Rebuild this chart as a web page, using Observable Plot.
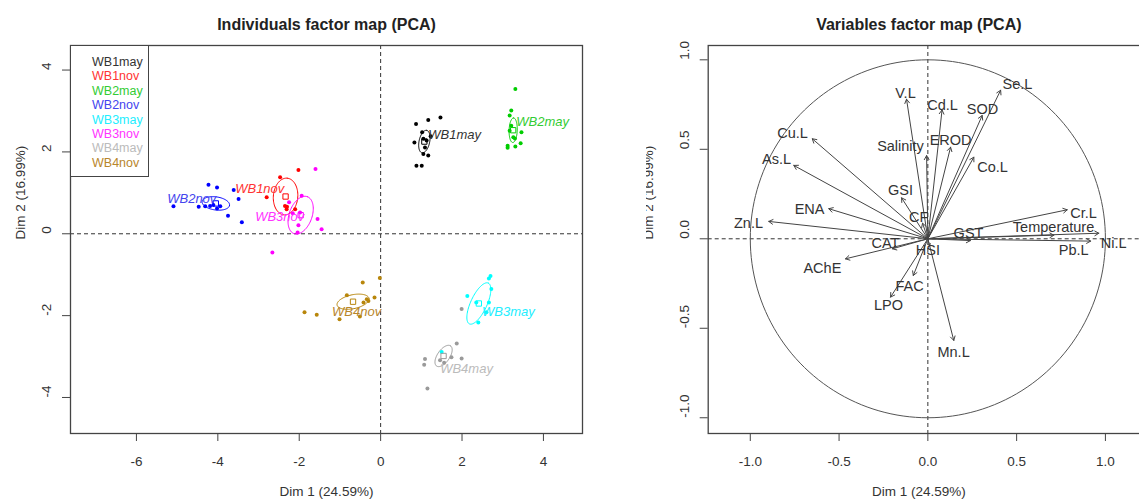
<!DOCTYPE html>
<html><head><meta charset="utf-8">
<script src="https://cdn.jsdelivr.net/npm/d3@7"></script>
<script src="https://cdn.jsdelivr.net/npm/@observablehq/plot@0.6"></script>
<style>
body{margin:0;background:#fff;}
#wrap{position:relative;width:1139px;height:500px;overflow:hidden;background:#fff;font-family:"Liberation Sans",Arial,sans-serif;}
#left{position:absolute;left:0;top:0;width:600px;height:500px;}
#right{position:absolute;left:646px;top:0;width:514px;height:500px;}
#wrap svg{max-width:none !important;}
#legend{position:absolute;left:70px;top:45px;width:79px;height:132px;box-sizing:border-box;border:1.3px solid #444;background:#fff;padding:9px 0 0 21px;font-size:12.5px;line-height:14.4px;}
</style></head><body>
<div id="wrap"><div id="left"></div><div id="right"></div><div id="legend"></div></div>
<script>
// ---------- Individuals (left panel) ----------
const groups = ["WB1may","WB1nov","WB2may","WB2nov","WB3may","WB3nov","WB4may","WB4nov"];
const groupColors = ["#000000","#FF0000","#00CD00","#0000FF","#00FFFF","#FF00FF","#9A9A9A","#B8860B"];
const labelColors = ["#333333","#FF3333","#33CC33","#4444EE","#22EEFF","#FF33FF","#BBBBBB","#B8862B"];

const WB1may_x = [0.87,1.17,1.47,1.02,0.83,1.23,1.05,1.17,0.88,1.01,1.09,1.05,1.13];
const WB1may_y = [2.68,2.78,2.84,2.48,2.23,2.38,1.95,1.91,1.66,1.66,2.11,2.32,2.28];
const WB1nov_x = [-2.02,-2.47,-2.80,-2.35,-2.31,-2.10,-2.30];
const WB1nov_y = [1.56,1.38,0.89,0.68,0.60,0.60,0.66];
const WB2may_x = [3.31,3.21,3.17,3.21,3.17,3.46,3.26,3.30,3.12,3.12,3.31,3.44];
const WB2may_y = [3.54,3.01,2.89,2.64,2.52,2.48,2.36,2.33,2.15,2.10,2.13,2.21];
const WB2nov_x = [-5.09,-4.23,-4.02,-3.61,-4.47,-3.49,-3.75,-3.41,-4.19,-4.11,-3.94,-4.02,-4.31];
const WB2nov_y = [0.67,1.20,1.13,1.07,0.66,0.85,0.44,0.28,0.68,0.70,0.67,0.62,0.67];
const WB3may_x = [2.70,2.66,2.72,2.13,2.66,2.60,2.40,1.50,2.35];
const WB3may_y = [-1.03,-1.09,-1.35,-1.52,-1.68,-1.92,-2.17,-2.89,-1.68];
const WB3nov_x = [-1.60,-1.94,-2.25,-2.16,-1.98,-1.55,-1.45,-2.02,-2.04,-2.66];
const WB3nov_y = [1.58,0.93,0.77,0.50,0.52,0.36,0.11,0.21,0.03,-0.46];
const WB4may_x = [1.99,1.87,1.99,1.74,1.09,1.07,1.46,1.56,1.15];
const WB4may_y = [-1.84,-2.68,-3.05,-3.02,-3.06,-3.20,-3.09,-3.15,-3.78];
const WB4nov_x = [-0.02,-0.44,-0.15,-0.83,-0.30,-1.87,-1.57,-1.01,-0.51,-0.42,-0.34];
const WB4nov_y = [-1.08,-1.19,-1.56,-1.50,-1.64,-1.92,-1.98,-2.09,-2.02,-1.68,-1.60];

// confidence ellipse semi-axes and orientation (degrees)
const ellA = [0.28,0.45,0.30,0.34,0.55,0.48,0.30,0.40];
const ellB = [0.13,0.30,0.10,0.16,0.20,0.28,0.15,0.17];
const ellAngle = [78,85,88,-8,65,70,55,12];
// group label positions
const labelX = [1.82,-2.97,3.98,-4.64,3.14,-2.48,2.11,-0.59];
const labelY = [2.42,1.10,2.74,0.86,-1.91,0.42,-3.30,-1.91];

const xTicksL = [-6,-4,-2,0,2,4];
const yTicksL = [-4,-2,0,2,4];

// ---------- Variables (right panel) ----------
const varNames = ["V.L","Cd.L","SOD","Se.L","EROD","Salinity","Co.L","Cu.L","As.L","GSI","ENA","Zn.L","CF","CAT","AChE","HSI","FAC","LPO","Mn.L","GST","Cr.L","Temperature","Ni.L","Pb.L"];
const varX = [-0.12,0.08,0.306,0.41,0.128,-0.007,0.259,-0.651,-0.755,-0.148,-0.558,-0.896,-0.03,-0.2,-0.464,0.01,-0.082,-0.21,0.146,0.24,0.785,0.71,0.963,0.917];
const varY = [0.78,0.72,0.689,0.83,0.512,0.465,0.456,0.559,0.41,0.229,0.168,0.097,0.087,-0.056,-0.112,-0.04,-0.205,-0.326,-0.568,-0.01,0.162,0.02,0.031,-0.013];
const varLabelX = [-0.126,0.083,0.308,0.505,0.128,-0.154,0.364,-0.762,-0.852,-0.154,-0.666,-1.01,-0.052,-0.239,-0.594,0.0,-0.103,-0.222,0.145,0.229,0.877,0.708,1.046,0.821];
const varLabelY = [0.812,0.745,0.722,0.862,0.549,0.515,0.398,0.587,0.443,0.270,0.164,0.086,0.119,-0.026,-0.166,-0.065,-0.266,-0.373,-0.635,0.030,0.141,0.063,-0.026,-0.065];
const xTicksR = [-1,-0.5,0,0.5,1];
const yTicksR = [-1,-0.5,0,0.5,1];

const FONT = '"Liberation Sans", Arial, sans-serif';
const pointsByGroup = {
  WB1may:[WB1may_x,WB1may_y], WB1nov:[WB1nov_x,WB1nov_y], WB2may:[WB2may_x,WB2may_y], WB2nov:[WB2nov_x,WB2nov_y],
  WB3may:[WB3may_x,WB3may_y], WB3nov:[WB3nov_x,WB3nov_y], WB4may:[WB4may_x,WB4may_y], WB4nov:[WB4nov_x,WB4nov_y]
};
const points = [];
groups.forEach(g => { const [xs, ys] = pointsByGroup[g]; xs.forEach((x, i) => points.push({g, x, y: ys[i]})); });
const means = groups.map((g, i) => {
  const [xs, ys] = pointsByGroup[g];
  return {g, x: d3.mean(xs), y: d3.mean(ys), lx: labelX[i], ly: labelY[i]};
});
const ellPts = [];
means.forEach((m, i) => {
  const th = ellAngle[i] * Math.PI / 180, a = ellA[i], b = ellB[i];
  for (let k = 0; k <= 90; k++) {
    const t = 2 * Math.PI * k / 90;
    ellPts.push({g: m.g, x: m.x + a*Math.cos(t)*Math.cos(th) - b*Math.sin(t)*Math.sin(th),
                        y: m.y + a*Math.cos(t)*Math.sin(th) + b*Math.sin(t)*Math.cos(th)});
  }
});

const left = Plot.plot({
  width: 600, height: 500,
  marginLeft: 70, marginTop: 45, marginRight: 18, marginBottom: 67,
  x: {domain: [-7.62, 4.96]},
  y: {domain: [-4.88, 4.60]},
  color: {domain: groups, range: groupColors},
  style: {fontFamily: FONT, background: "white", color: "#333", maxWidth: "none"},
  marks: [
    Plot.ruleX([0], {stroke: "#333", strokeDasharray: "4,3"}),
    Plot.ruleY([0], {stroke: "#333", strokeDasharray: "4,3"}),
    Plot.line(ellPts, {x: "x", y: "y", z: "g", stroke: "g", strokeWidth: 1}),
    Plot.dot(points, {x: "x", y: "y", fill: "g", r: 2, stroke: null}),
    Plot.dot(means, {x: "x", y: "y", stroke: "g", symbol: "square", r: 3, fill: "none", strokeWidth: 1}),
    Plot.text(means, {x: "lx", y: "ly", text: "g", fill: d => labelColors[groups.indexOf(d.g)], fontStyle: "italic", fontSize: 13}),
    Plot.frame({stroke: "#444", strokeWidth: 1.3}),
    Plot.axisX(xTicksL, {tickSize: 8, fill: "none", stroke: "#444", label: null}),
    Plot.axisY(yTicksL, {tickSize: 8, fill: "none", stroke: "#444", label: null}),
    Plot.text(xTicksL, {x: d => d, text: d => String(d), frameAnchor: "bottom", dy: 32, fontSize: 13.5, fill: "#333"}),
    Plot.text(yTicksL, {y: d => d, text: d => String(d), frameAnchor: "left", dx: -24, rotate: -90, fontSize: 13.5, fill: "#333"}),
    Plot.text(["Individuals factor map (PCA)"], {text: d => d, frameAnchor: "top", dy: -27, fontSize: 16, fontWeight: "bold", fill: "#222"}),
    Plot.text(["Dim 1 (24.59%)"], {text: d => d, frameAnchor: "bottom", dy: 62, fontSize: 13.5, fill: "#333"}),
    Plot.text(["Dim 2 (16.99%)"], {text: d => d, frameAnchor: "left", dx: -50, rotate: -90, fontSize: 13.5, fill: "#333"})
  ]
});
document.getElementById("left").appendChild(left);

const legend = document.getElementById("legend");
groups.forEach((g, i) => {
  const d = document.createElement("div");
  d.textContent = g; d.style.color = labelColors[i];
  legend.appendChild(d);
});

const vars = varNames.map((n, i) => ({n, x: varX[i], y: varY[i], lx: varLabelX[i], ly: varLabelY[i]}));
const circle = d3.range(0, 181).map(k => ({x: Math.cos(2*Math.PI*k/180), y: Math.sin(2*Math.PI*k/180)}));
const fmt1 = d => d.toFixed(1);

const right = Plot.plot({
  width: 514, height: 500,
  marginLeft: 61.7, marginTop: 45, marginRight: 13, marginBottom: 67,
  x: {domain: [-1.237, 1.237]},
  y: {domain: [-1.088, 1.08]},
  style: {fontFamily: FONT, background: "white", color: "#333", maxWidth: "none"},
  marks: [
    Plot.ruleX([0], {stroke: "#333", strokeDasharray: "4,3"}),
    Plot.ruleY([0], {stroke: "#333", strokeDasharray: "4,3"}),
    Plot.line(circle, {x: "x", y: "y", stroke: "#555", strokeWidth: 1}),
    Plot.arrow(vars, {x1: d => 0, y1: d => 0, x2: "x", y2: "y", stroke: "#444", strokeWidth: 1, headLength: 7}),
    Plot.text(vars, {x: "lx", y: "ly", text: "n", fontSize: 14.5, fill: "#333"}),
    Plot.frame({stroke: "#444", strokeWidth: 1.3}),
    Plot.axisX(xTicksR, {tickSize: 8, fill: "none", stroke: "#444", label: null}),
    Plot.axisY(yTicksR, {tickSize: 8, fill: "none", stroke: "#444", label: null}),
    Plot.text(xTicksR, {x: d => d, text: fmt1, frameAnchor: "bottom", dy: 32, fontSize: 13.5, fill: "#333"}),
    Plot.text(yTicksR, {y: d => d, text: fmt1, frameAnchor: "left", dx: -24, rotate: -90, fontSize: 13.5, fill: "#333"}),
    Plot.text(["Variables factor map (PCA)"], {text: d => d, frameAnchor: "top", dy: -27, dx: -9, fontSize: 16, fontWeight: "bold", fill: "#222"}),
    Plot.text(["Dim 1 (24.59%)"], {text: d => d, frameAnchor: "bottom", dy: 62, dx: -9, fontSize: 13.5, fill: "#333"}),
    Plot.text(["Dim 2 (16.99%)"], {text: d => d, frameAnchor: "left", dx: -60, rotate: -90, fontSize: 13.5, fill: "#333"})
  ]
});
document.getElementById("right").appendChild(right);
</script>
</body></html>
